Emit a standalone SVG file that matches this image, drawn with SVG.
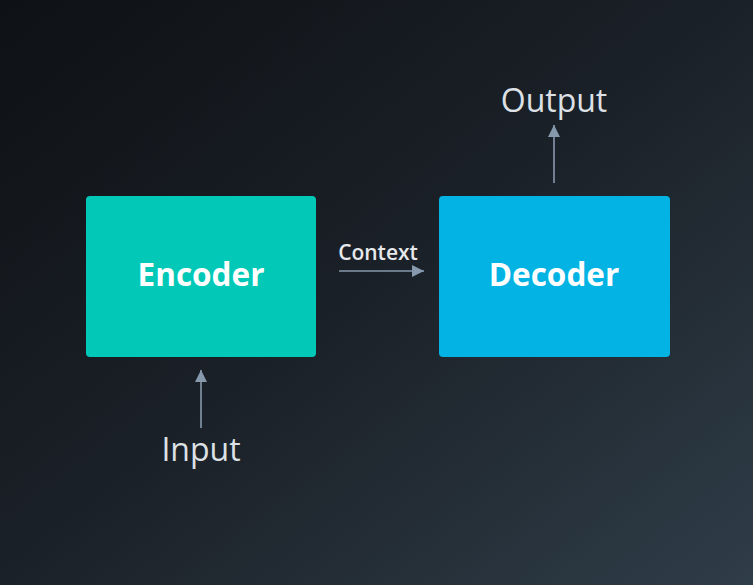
<svg xmlns="http://www.w3.org/2000/svg" width="753" height="585" viewBox="0 0 753 585">
<defs>
<linearGradient id="bg" x1="0" y1="0" x2="1" y2="1">
<stop offset="0" stop-color="#0e1115"/>
<stop offset="0.5" stop-color="#1b2128"/>
<stop offset="1" stop-color="#2f3d48"/>
</linearGradient>
<marker id="ah" viewBox="0 0 10 10" refX="10" refY="5" markerWidth="12" markerHeight="12" markerUnits="userSpaceOnUse" orient="auto">
<path d="M0,0 L10,5 L0,10 Z" fill="#8799ad"/>
</marker>
</defs>
<style>
.box-text{font-family:"Open Sans","Noto Sans",sans-serif;font-weight:700;font-size:31.5px;fill:#ffffff;text-anchor:middle}
.lbl{font-family:"Open Sans","Noto Sans",sans-serif;font-weight:400;font-size:32px;fill:#dde1e6;text-anchor:middle}
.ctx{font-family:"Open Sans","Noto Sans",sans-serif;font-weight:600;font-size:21px;fill:#e6e9ec;text-anchor:middle}
.conn{stroke:#8799ad;stroke-width:1.6;fill:none}
</style>
<rect width="753" height="585" fill="url(#bg)"/>
<g id="connectors">
<line class="conn" x1="339" y1="271" x2="424" y2="271" marker-end="url(#ah)"/>
<line class="conn" x1="554" y1="183" x2="554" y2="125" marker-end="url(#ah)"/>
<line class="conn" x1="201" y1="428" x2="201" y2="370" marker-end="url(#ah)"/>
</g>
<g id="encoder">
<rect x="86" y="196" width="230" height="161" rx="4" fill="#02c9b7"/>
<text class="box-text" x="201" y="286">Encoder</text>
</g>
<g id="decoder">
<rect x="439" y="196" width="231" height="161" rx="4" fill="#02b3e4"/>
<text class="box-text" x="554" y="286">Decoder</text>
</g>
<g id="context-label">
<text class="ctx" x="378" y="260">Context</text>
</g>
<g id="output">
<text class="lbl" x="554" y="112">Output</text>
</g>
<g id="input">
<text class="lbl" x="201" y="461">Input</text>
</g>
</svg>
